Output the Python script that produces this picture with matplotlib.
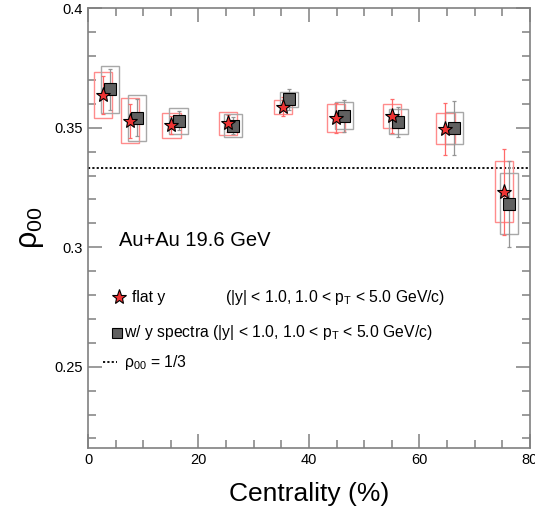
import matplotlib
matplotlib.use('Agg')
import matplotlib.pyplot as plt
from matplotlib.patches import Rectangle
from matplotlib.ticker import MultipleLocator

plt.rcParams['font.family'] = ['Liberation Sans', 'DejaVu Sans']
plt.rcParams['mathtext.fontset'] = 'custom'
plt.rcParams['mathtext.rm'] = 'Liberation Sans'
plt.rcParams['mathtext.it'] = 'Liberation Sans:italic'

# data
cent_flat = [2.7, 7.6, 15.1, 25.3, 35.3, 44.9, 55.1, 64.7, 75.3]
cent_spec = [4.0, 8.9, 16.4, 26.2, 36.4, 46.4, 56.2, 66.3, 76.2]
rho_flat = [0.3636, 0.3530, 0.3510, 0.3518, 0.3587, 0.3541, 0.3550, 0.3495, 0.3232]
rho_spec = [0.3660, 0.3541, 0.3529, 0.3508, 0.3618, 0.3550, 0.3525, 0.3499, 0.3182]
stat_flat = [0.0080, 0.0071, 0.0038, 0.0035, 0.0040, 0.0063, 0.0071, 0.0110, 0.0180]
stat_spec = [0.0084, 0.0077, 0.0040, 0.0035, 0.0042, 0.0066, 0.0063, 0.0112, 0.0180]
sys_flat = [0.0097, 0.0094, 0.0052, 0.0048, 0.0030, 0.0057, 0.0050, 0.0065, 0.0128]
sys_spec = [0.0099, 0.0096, 0.0054, 0.0048, 0.0031, 0.0057, 0.0052, 0.0067, 0.0128]
rho_ref = 1.0 / 3.0

box_w = 3.3
red_box = '#ff8c8c'
gray_box = '#a8a8a8'

fig = plt.figure(figsize=(5.35, 5.12), dpi=100)
ax = fig.add_axes([0.1645, 0.125, 0.826, 0.859])

# systematic boxes
for x, y, s in zip(cent_flat, rho_flat, sys_flat):
    ax.add_patch(Rectangle((x - box_w / 2, y - s), box_w, 2 * s, fill=False,
                           edgecolor=red_box, lw=1.0, zorder=2))
for x, y, s in zip(cent_spec, rho_spec, sys_spec):
    ax.add_patch(Rectangle((x - box_w / 2, y - s), box_w, 2 * s, fill=False,
                           edgecolor=gray_box, lw=1.0, zorder=2))

# stat errors
ax.errorbar(cent_flat, rho_flat, yerr=stat_flat, fmt='none', ecolor='#ff6a6a',
            elinewidth=0.9, capsize=1.5, capthick=0.9, zorder=3)
ax.errorbar(cent_spec, rho_spec, yerr=stat_spec, fmt='none', ecolor='#959595',
            elinewidth=0.9, capsize=1.5, capthick=0.9, zorder=3)

ax.plot(cent_spec, rho_spec, 's', ms=8, mfc='#606060', mec='black', mew=0.8, zorder=4)
ax.plot(cent_flat, rho_flat, '*', ms=11, mfc='#ee3333', mec='black', mew=0.8, zorder=5)

ax.axhline(rho_ref, color='black', ls=(0, (1.2, 1.2)), lw=1.3, zorder=1)

ax.set_xlim(0, 80)
ax.set_ylim(0.216, 0.4)
ax.xaxis.set_major_locator(MultipleLocator(20))
ax.xaxis.set_minor_locator(MultipleLocator(5))
ax.yaxis.set_major_locator(MultipleLocator(0.05))
ax.yaxis.set_minor_locator(MultipleLocator(0.01))
ax.yaxis.set_major_formatter(plt.FuncFormatter(lambda v, p: '%g' % round(v, 3)))

for sp in ax.spines.values():
    sp.set_color('#808080')
    sp.set_linewidth(1.2)
ax.tick_params(which='both', direction='in', top=True, right=True, color='#808080',
               labelsize=10.5, width=1.1)
ax.tick_params(which='major', length=10)
ax.tick_params(which='minor', length=6)

ax.set_xlabel('Centrality (%)', fontsize=19, labelpad=11)
ax.set_ylabel('ρ$_{00}$', fontsize=22, labelpad=6)

ax.text(0.071, 0.472, 'Au+Au 19.6 GeV', transform=ax.transAxes, fontsize=14.5,
        va='center', ha='left')

# legend drawn by hand
ax.plot([0.070], [0.343], '*', transform=ax.transAxes, ms=11, mfc='#ee3333',
        mec='black', mew=0.8, clip_on=False)
ax.text(0.100, 0.343, 'flat y', transform=ax.transAxes, fontsize=11.3, va='center')
ax.text(0.310, 0.343, r'(|y| < 1.0, 1.0 < p$_{\mathrm{T}}$ < 5.0 GeV/c)',
        transform=ax.transAxes, fontsize=11.3, va='center')
ax.plot([0.066], [0.262], 's', transform=ax.transAxes, ms=7, mfc='#606060',
        mec='black', mew=0.8, clip_on=False)
ax.text(0.082, 0.262, r'w/ y spectra (|y| < 1.0, 1.0 < p$_{\mathrm{T}}$ < 5.0 GeV/c)',
        transform=ax.transAxes, fontsize=11.3, va='center')
ax.plot([0.034, 0.066], [0.195, 0.195], transform=ax.transAxes, color='black',
        ls=(0, (1.2, 1.2)), lw=1.3)
ax.text(0.082, 0.195, r'ρ$_{00}$ = 1/3', transform=ax.transAxes, fontsize=11.3, va='center')

fig.savefig('out.png', dpi=100)
